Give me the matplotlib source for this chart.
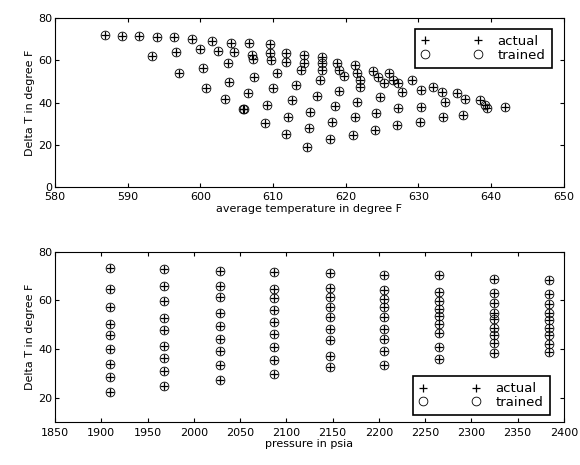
import numpy as np
import matplotlib
matplotlib.use('Agg')
import matplotlib.pyplot as plt

# top panel: average temperature vs delta T
t_avg = [586.9, 589.2, 591.6, 594.0, 596.4, 598.9, 601.6, 604.2,
         593.4, 596.7, 599.9, 602.4, 604.6,
         597.0, 600.4, 603.8, 600.8, 604.0, 603.4, 605.9,
         606.7, 607.1, 607.3, 609.6, 609.6, 609.7, 611.8, 611.8,
         614.2, 614.2, 613.9, 616.7, 616.7, 616.7, 616.5,
         618.8, 619.1, 619.7, 621.3, 621.5, 622.0, 622.0,
         623.7, 624.5, 625.2, 626.0, 626.5, 627.2,
         607.4, 610.5, 613.2, 610.0, 606.6, 606.0,
         616.0, 612.6, 609.2, 619.1, 621.5, 624.7, 624.2, 627.2,
         618.5, 615.1, 612.1, 608.9, 618.1, 614.9, 611.8,
         621.3, 624.0, 627.0, 621.0, 617.8, 614.6,
         627.7, 629.1, 630.4, 632.0, 633.2, 633.6, 635.3, 636.4,
         638.5, 639.1, 639.4, 641.9, 630.4, 633.4, 636.2, 630.2]
dt_top = [72.0, 71.6, 71.6, 71.2, 70.9, 69.9, 69.3, 68.3,
          62.0, 63.8, 65.2, 64.4, 63.8,
          54.1, 56.2, 58.6, 46.7, 49.6, 41.7, 36.8,
          68.3, 62.5, 60.4, 67.7, 63.3, 60.1, 63.3, 59.3,
          62.5, 58.5, 55.4, 61.7, 58.5, 55.4, 50.6,
          58.8, 55.4, 52.5, 57.7, 53.8, 50.6, 47.5,
          55.1, 52.2, 49.1, 53.8, 50.6, 49.1,
          51.9, 53.8, 48.3, 46.7, 44.7, 36.8,
          43.1, 41.2, 38.8, 45.6, 40.4, 42.4, 35.2, 37.2,
          38.3, 35.6, 33.3, 30.5, 30.9, 27.8, 25.1,
          33.3, 27.0, 29.3, 24.6, 22.5, 19.1,
          45.1, 50.6, 45.9, 47.5, 45.1, 40.4, 44.3, 41.9,
          41.2, 38.8, 37.2, 37.7, 38.0, 33.0, 34.1, 30.9]

# bottom panel: pressure levels and delta T at each level
pressures = [1909, 1968, 2028, 2087, 2147, 2206, 2265, 2325, 2384]
dt_by_p = [
    [73.3, 64.6, 57.2, 50.2, 45.6, 40.0, 33.7, 28.5, 22.2],
    [73.0, 65.9, 59.6, 52.6, 47.7, 41.4, 36.5, 30.9, 24.6],
    [72.2, 65.9, 61.4, 54.7, 49.5, 44.2, 39.0, 33.4, 27.4],
    [71.6, 64.9, 61.0, 56.1, 51.2, 46.3, 40.7, 35.5, 29.9],
    [71.2, 65.2, 61.4, 57.2, 53.0, 48.1, 43.6, 37.2, 32.5],
    [70.5, 64.2, 60.7, 57.2, 53.0, 48.1, 44.2, 39.0, 33.4],
    [70.3, 63.3, 59.9, 56.4, 53.6, 50.1, 46.6, 41.0, 36.1],
    [69.0, 63.1, 59.1, 54.9, 52.2, 48.7, 45.9, 42.4, 38.2],
    [68.2, 62.7, 58.7, 54.9, 51.8, 48.7, 45.6, 41.9, 38.9],
]

p_pts = [p for p, col in zip(pressures, dt_by_p) for _ in col]
dt_bot = [v for col in dt_by_p for v in col]

plt.rcParams['font.family'] = 'DejaVu Sans'
plt.rcParams['font.size'] = 8

fig = plt.figure(figsize=(5.8, 4.65), dpi=100)
ax1 = fig.add_axes([0.095, 0.598, 0.877, 0.363])
ax2 = fig.add_axes([0.095, 0.0925, 0.877, 0.366])

ms = 6.3
for ax, x, y in [(ax1, t_avg, dt_top), (ax2, p_pts, dt_bot)]:
    ax.plot(x, y, '+', color='black', ms=ms, mew=0.9, label='actual')
    ax.plot(x, y, 'o', color='black', mfc='none', ms=ms, mew=0.6, label='trained')
    ax.tick_params(direction='in', top=True, right=True, length=3, width=0.8)
    ax.tick_params(axis='y', pad=2)
    ax.tick_params(axis='x', pad=4)
    for s in ax.spines.values():
        s.set_linewidth(0.8)
    ax.set_ylabel('Delta T in degree F', labelpad=2)

ax1.set_xlim(580, 650)
ax1.set_ylim(0, 80)
ax1.set_xticks(np.arange(580, 651, 10))
ax1.set_yticks([0, 20, 40, 60, 80])
ax1.set_xlabel('average temperature in degree F', labelpad=1)

ax2.set_xlim(1850, 2400)
ax2.set_ylim(10, 80)
ax2.set_xticks(np.arange(1850, 2401, 50))
ax2.set_yticks([20, 40, 60, 80])
ax2.set_xlabel('pressure in psia', labelpad=1)

leg_kw = dict(numpoints=2, handlelength=4.6, fancybox=False, framealpha=1,
              edgecolor='black', borderpad=0.45, labelspacing=0.05,
              handletextpad=1.2, fontsize=9.5, borderaxespad=0)
l1 = ax1.legend(loc='upper right', bbox_to_anchor=(0.976, 0.935), **leg_kw)
l2 = ax2.legend(loc='lower right', bbox_to_anchor=(0.972, 0.041), **leg_kw)
for l in (l1, l2):
    l.get_frame().set_linewidth(1.2)

fig.savefig('out.png', dpi=100)
